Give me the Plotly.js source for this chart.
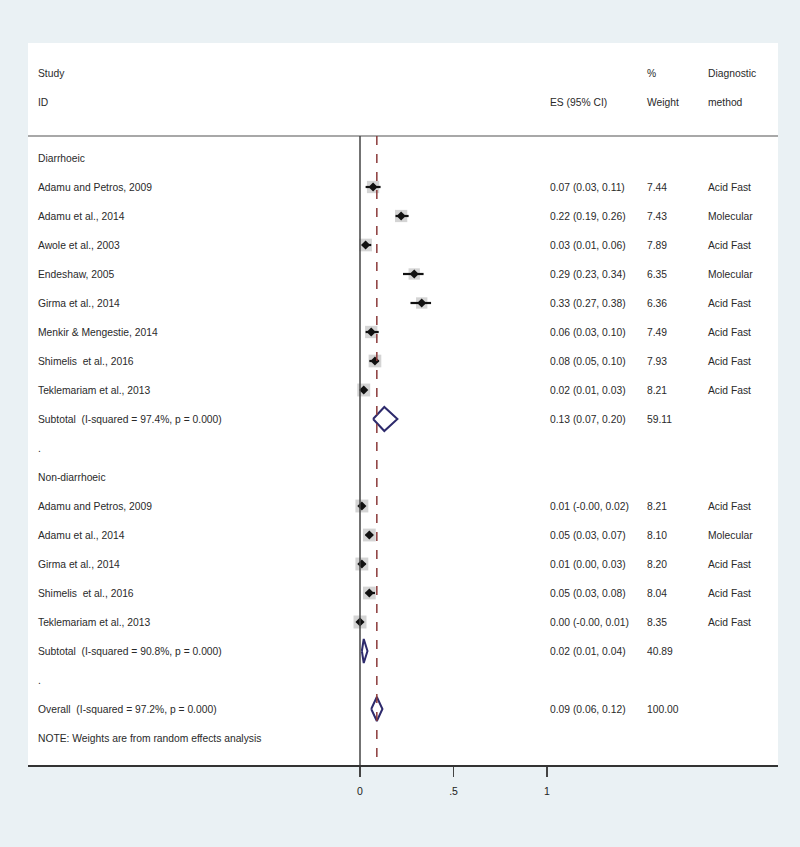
<!DOCTYPE html>
<html>
<head>
<meta charset="utf-8">
<script src="https://cdn.plot.ly/plotly-3.0.1.min.js"></script>
<style>html,body{margin:0;padding:0;background:#eaf1f4;}#chart{width:800px;height:847px;}</style>
</head>
<body>
<div id="chart"></div>
<script>
// ---- data ----
const groupLabels = ["Diarrhoeic", "Non-diarrhoeic"];
const studiesA = ["Adamu and Petros, 2009", "Adamu et al., 2014", "Awole et al., 2003", "Endeshaw, 2005", "Girma et al., 2014", "Menkir & Mengestie, 2014", "Shimelis  et al., 2016", "Teklemariam et al., 2013"];
const esA = [0.07, 0.22, 0.03, 0.29, 0.33, 0.06, 0.08, 0.02];
const loA = [0.03, 0.19, 0.01, 0.23, 0.27, 0.03, 0.05, 0.01];
const hiA = [0.11, 0.26, 0.06, 0.34, 0.38, 0.10, 0.10, 0.03];
const ciTextA = ["0.07 (0.03, 0.11)", "0.22 (0.19, 0.26)", "0.03 (0.01, 0.06)", "0.29 (0.23, 0.34)", "0.33 (0.27, 0.38)", "0.06 (0.03, 0.10)", "0.08 (0.05, 0.10)", "0.02 (0.01, 0.03)"];
const weightA = ["7.44", "7.43", "7.89", "6.35", "6.36", "7.49", "7.93", "8.21"];
const methodA = ["Acid Fast", "Molecular", "Acid Fast", "Molecular", "Acid Fast", "Acid Fast", "Acid Fast", "Acid Fast"];

const studiesB = ["Adamu and Petros, 2009", "Adamu et al., 2014", "Girma et al., 2014", "Shimelis  et al., 2016", "Teklemariam et al., 2013"];
const esB = [0.01, 0.05, 0.01, 0.05, 0.00];
const loB = [-0.00, 0.03, 0.00, 0.03, -0.00];
const hiB = [0.02, 0.07, 0.03, 0.08, 0.01];
const ciTextB = ["0.01 (-0.00, 0.02)", "0.05 (0.03, 0.07)", "0.01 (0.00, 0.03)", "0.05 (0.03, 0.08)", "0.00 (-0.00, 0.01)"];
const weightB = ["8.21", "8.10", "8.20", "8.04", "8.35"];
const methodB = ["Acid Fast", "Molecular", "Acid Fast", "Acid Fast", "Acid Fast"];

const pooledLabels = ["Subtotal  (I-squared = 97.4%, p = 0.000)", "Subtotal  (I-squared = 90.8%, p = 0.000)", "Overall  (I-squared = 97.2%, p = 0.000)"];
const pooledES = [0.13, 0.02, 0.09];
const pooledLo = [0.07, 0.01, 0.06];
const pooledHi = [0.20, 0.04, 0.12];
const pooledCiText = ["0.13 (0.07, 0.20)", "0.02 (0.01, 0.04)", "0.09 (0.06, 0.12)"];
const pooledWeight = ["59.11", "40.89", "100.00"];

const overallES = 0.09;
const tickVals = [0, 0.5, 1];
const tickLabels = ["0", ".5", "1"];
const noteText = "NOTE: Weights are from random effects analysis";

// ---- layout rows (row index = vertical position) ----
const rowsA = studiesA.map((_, i) => 1 + i);           // 1..8
const subA = 9;
const dotA = 10;
const headB = 11;
const rowsB = studiesB.map((_, i) => 12 + i);          // 12..16
const subB = 17;
const dotB = 18;
const overallRow = 19;
const noteRow = 20;
const pooledRows = [subA, subB, overallRow];

// pixel mapping helpers
const L = 28, R = 22, T = 43, B = 82, W = 800 - L - R;
const px = p => (p - L) / W;
const row0Px = 158, rowH = 29;
const pyRow = p => (p - row0Px) / rowH;

const font = {family: "Liberation Sans, Arial, sans-serif", size: 10.3, color: "#2a2a2a"};
const ann = [];
function txt(x, y, s) {
  ann.push({xref: "paper", yref: "y", x: px(x), y: y, text: s, showarrow: false, xanchor: "left", yanchor: "middle", font: font});
}
// header
txt(36, pyRow(73), "Study");
txt(36, pyRow(102), "ID");
txt(548, pyRow(102), "ES (95% CI)");
txt(645, pyRow(73), "%");
txt(645, pyRow(102), "Weight");
txt(706, pyRow(73), "Diagnostic");
txt(706, pyRow(102), "method");

txt(36, 0, groupLabels[0]);
studiesA.forEach((s, i) => { txt(36, rowsA[i], s); txt(548, rowsA[i], ciTextA[i]); txt(645, rowsA[i], weightA[i]); txt(706, rowsA[i], methodA[i]); });
txt(36, dotA, ".");
txt(36, headB, groupLabels[1]);
studiesB.forEach((s, i) => { txt(36, rowsB[i], s); txt(548, rowsB[i], ciTextB[i]); txt(645, rowsB[i], weightB[i]); txt(706, rowsB[i], methodB[i]); });
txt(36, dotB, ".");
pooledLabels.forEach((s, i) => { txt(36, pooledRows[i], s); txt(548, pooledRows[i], pooledCiText[i]); txt(645, pooledRows[i], pooledWeight[i]); });
txt(36, noteRow, noteText);

// traces
const allY = rowsA.concat(rowsB);
const allES = esA.concat(esB);
const allLo = loA.concat(loB);
const allHi = hiA.concat(hiB);
const allW = weightA.concat(weightB).map(Number);

const traces = [];
traces.push({
  type: "scatter", mode: "markers", x: allES, y: allY, hoverinfo: "skip",
  marker: {symbol: "square", size: allW.map(w => 4.5 * Math.sqrt(w)), color: "#c2c2c2", line: {width: 0}}
});
traces.push({
  type: "scatter", mode: "markers", x: allES, y: allY, hoverinfo: "skip",
  marker: {symbol: "diamond", size: 7, color: "#111"},
  error_x: {type: "data", symmetric: false, array: allHi.map((h, i) => h - allES[i]), arrayminus: allES.map((e, i) => e - allLo[i]), color: "#111", thickness: 2.2, width: 0}
});
// pooled diamonds
const dh = 12 / rowH;
pooledES.forEach((e, i) => {
  const r = pooledRows[i];
  traces.push({
    type: "scatter", mode: "lines", hoverinfo: "skip",
    x: [pooledLo[i], e, pooledHi[i], e, pooledLo[i]],
    y: [r, r - dh, r, r + dh, r],
    line: {color: "#2d2a6c", width: 2}
  });
});

const topLine = pyRow(136);
const yBottom = pyRow(765);
const shapes = [
  {type: "line", xref: "paper", yref: "y", x0: 0, x1: 1, y0: topLine, y1: topLine, line: {color: "#a8a8a8", width: 2}},
  {type: "line", xref: "x", yref: "y", x0: 0, x1: 0, y0: topLine, y1: yBottom, line: {color: "#444", width: 1.5}},
  {type: "line", xref: "x", yref: "y", x0: overallES, x1: overallES, y0: topLine, y1: yBottom, line: {color: "#8b3a3a", width: 1.5, dash: "dash"}}
];

const layout = {
  width: 800, height: 847,
  margin: {l: L, r: R, t: T, b: B},
  paper_bgcolor: "#eaf1f4", plot_bgcolor: "#ffffff",
  showlegend: false,
  xaxis: {
    range: [(L - 360) / 187, (800 - R - 360) / 187], autorange: false,
    tickvals: tickVals, ticktext: tickLabels, ticks: "outside", ticklen: 10, tickwidth: 1.5, tickcolor: "#444",
    ticklabelstandoff: 6,
    showline: true, linecolor: "#333", linewidth: 1.5, showgrid: false, zeroline: false,
    tickfont: {family: "Liberation Sans, Arial, sans-serif", size: 10.5, color: "#222"}, fixedrange: true
  },
  yaxis: {
    range: [pyRow(765), pyRow(43)], autorange: false,
    showticklabels: false, ticks: "", showgrid: false, zeroline: false, showline: false, fixedrange: true
  },
  annotations: ann,
  shapes: shapes
};

Plotly.newPlot("chart", traces, layout, {displayModeBar: false, staticPlot: true});
</script>
</body>
</html>
